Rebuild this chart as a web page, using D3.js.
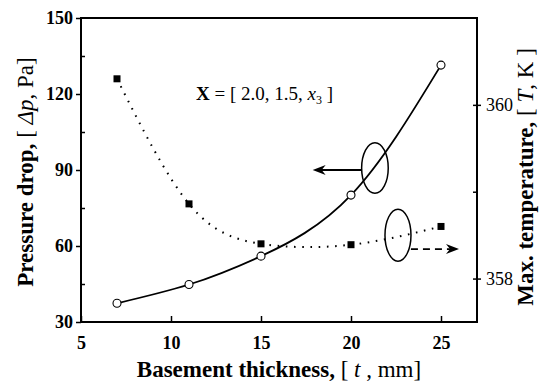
<!DOCTYPE html>
<html>
<head>
<meta charset="utf-8">
<script src="https://cdn.jsdelivr.net/npm/d3@7"></script>
<style>
  body { margin: 0; background: #fff; }
  text { font-family: "Liberation Serif", "Times New Roman", serif; fill: #000; }
</style>
</head>
<body>
<div id="chart"></div>
<script>
// Data
const thickness = [7, 11, 15, 20, 25];
const pressureDrop = [37.4, 44.8, 56, 80.1, 131.4];
const maxTemp = [360.30, 358.86, 358.40, 358.39, 358.60];

const xTicks = [5, 10, 15, 20, 25];
const leftTicks = [30, 60, 90, 120, 150];
const leftMinor = [45, 75, 105, 135];
const rightTicks = [358, 360];
const rightMinor = [359];

// Annotation anchors (data units): [x, y] with y on the axis the ellipse points to
const leftEllipse = { x: 21.33, y: 90.8, arrowTo: 17.87, arrowY: 90 };
const rightEllipse = { x: 22.61, y: 358.50, arrowFrom: 23.33, arrowTo: 26.0, arrowY: 358.34 };

const W = 543, H = 382;
const margin = { top: 18, right: 66, bottom: 60, left: 81 };
const width = W - margin.left - margin.right;
const height = H - margin.top - margin.bottom;

const svg = d3.select('#chart')
    .append('svg')
    .attr('width', W)
    .attr('height', H);

const g = svg.append('g')
    .attr('transform', `translate(${margin.left},${margin.top})`);

// Scales
const x = d3.scaleLinear().domain([5, 27]).range([0, width]);
const yL = d3.scaleLinear().domain([30, 150]).range([height, 0]);
const yR = d3.scaleLinear().domain([357.5, 361]).range([height, 0]);

// Frame
g.append('rect')
    .attr('width', width)
    .attr('height', height)
    .attr('fill', 'none')
    .attr('stroke', '#000')
    .attr('stroke-width', 2);

// X axis (ticks inward)
g.append('g')
    .attr('transform', `translate(0,${height})`)
    .call(d3.axisBottom(x).tickValues(xTicks).tickSizeInner(-6).tickSizeOuter(0).tickPadding(14))
    .call(a => a.select('.domain').remove())
    .call(a => a.selectAll('line').attr('stroke-width', 1.5))
    .call(a => a.selectAll('text')
        .attr('font-size', '18px').attr('font-weight', 'bold')
        .attr('font-family', '"Liberation Serif", serif'));

// Left axis
g.append('g')
    .call(d3.axisLeft(yL).tickValues(leftTicks).tickSizeInner(5).tickSizeOuter(0).tickPadding(3))
    .call(a => a.select('.domain').remove())
    .call(a => a.selectAll('line').attr('stroke-width', 1.5))
    .call(a => a.selectAll('text')
        .attr('font-size', '18px').attr('font-weight', 'bold')
        .attr('font-family', '"Liberation Serif", serif'));

g.append('g')
    .call(d3.axisRight(yL).tickValues(leftMinor).tickSize(4).tickFormat(''))
    .call(a => a.select('.domain').remove())
    .call(a => a.selectAll('line').attr('stroke-width', 1.5));

// Right axis
g.append('g')
    .attr('transform', `translate(${width},0)`)
    .call(d3.axisRight(yR).tickValues(rightTicks).tickFormat(d3.format('d'))
        .tickSizeInner(4).tickSizeOuter(0).tickPadding(5))
    .call(a => a.select('.domain').remove())
    .call(a => a.selectAll('line').attr('stroke-width', 1.5).attr('x1', -4))
    .call(a => a.selectAll('text')
        .attr('font-size', '18px')
        .attr('font-family', '"Liberation Serif", serif'));

g.append('g')
    .attr('transform', `translate(${width},0)`)
    .call(d3.axisLeft(yR).tickValues(rightMinor).tickSize(4).tickFormat(''))
    .call(a => a.select('.domain').remove())
    .call(a => a.selectAll('line').attr('stroke-width', 1.5));

// Lines
const pData = thickness.map((t, i) => [t, pressureDrop[i]]);
const tData = thickness.map((t, i) => [t, maxTemp[i]]);

g.append('path')
    .datum(tData)
    .attr('fill', 'none')
    .attr('stroke', '#000')
    .attr('stroke-width', 2)
    .attr('stroke-dasharray', '1.6 6.6')
    .attr('d', d3.line().x(d => x(d[0])).y(d => yR(d[1])).curve(d3.curveNatural));

g.append('path')
    .datum(pData)
    .attr('fill', 'none')
    .attr('stroke', '#000')
    .attr('stroke-width', 1.8)
    .attr('d', d3.line().x(d => x(d[0])).y(d => yL(d[1])).curve(d3.curveNatural));

// Markers
g.selectAll('.sq')
    .data(tData)
    .enter()
    .append('rect')
    .attr('class', 'sq')
    .attr('x', d => x(d[0]) - 3.5)
    .attr('y', d => yR(d[1]) - 3.5)
    .attr('width', 7)
    .attr('height', 7)
    .attr('fill', '#000');

g.selectAll('.circ')
    .data(pData)
    .enter()
    .append('circle')
    .attr('class', 'circ')
    .attr('cx', d => x(d[0]))
    .attr('cy', d => yL(d[1]))
    .attr('r', 4)
    .attr('fill', '#fff')
    .attr('stroke', '#000')
    .attr('stroke-width', 1.1);

// Arrowhead (barbed), dir = -1 points left, +1 points right
const arrowHead = (tx, ty, dir) =>
    `M${tx},${ty}L${tx - dir * 13},${ty - 5}L${tx - dir * 9},${ty}L${tx - dir * 13},${ty + 5}Z`;

// Left annotation: ellipse around solid curve, arrow to left axis
const e1x = x(leftEllipse.x), e1y = yL(leftEllipse.y);
g.append('ellipse')
    .attr('cx', e1x).attr('cy', e1y)
    .attr('rx', 13.3).attr('ry', 25.3)
    .attr('fill', 'none').attr('stroke', '#000').attr('stroke-width', 1.5);
const a1y = yL(leftEllipse.arrowY);
g.append('line')
    .attr('x1', e1x - 13.3).attr('y1', a1y)
    .attr('x2', x(leftEllipse.arrowTo) + 6).attr('y2', a1y)
    .attr('stroke', '#000').attr('stroke-width', 1.8);
g.append('path')
    .attr('d', arrowHead(x(leftEllipse.arrowTo), a1y, -1))
    .attr('fill', '#000');

// Right annotation: ellipse around dotted curve, dashed arrow to right axis
const e2x = x(rightEllipse.x), e2y = yR(rightEllipse.y);
g.append('ellipse')
    .attr('cx', e2x).attr('cy', e2y)
    .attr('rx', 13).attr('ry', 26)
    .attr('fill', 'none').attr('stroke', '#000').attr('stroke-width', 1.5);
const a2y = yR(rightEllipse.arrowY);
g.append('line')
    .attr('x1', x(rightEllipse.arrowFrom)).attr('y1', a2y)
    .attr('x2', x(rightEllipse.arrowTo) - 6).attr('y2', a2y)
    .attr('stroke', '#000').attr('stroke-width', 1.8)
    .attr('stroke-dasharray', '7 5');
g.append('path')
    .attr('d', arrowHead(x(rightEllipse.arrowTo), a2y, 1))
    .attr('fill', '#000');

// Design vector label
const lab = g.append('text')
    .attr('x', x(11.39))
    .attr('y', yL(117.6))
    .attr('font-size', '19px');
lab.append('tspan').attr('font-weight', 'bold').text('X');
lab.append('tspan').text(' = [ 2.0, 1.5, ');
lab.append('tspan').attr('font-style', 'italic').text('x');
lab.append('tspan').attr('font-size', '12px').attr('dy', 4).text('3');
lab.append('tspan').attr('dy', -4).text(' ]');

// Axis titles
const xt = svg.append('text')
    .attr('x', margin.left + width / 2)
    .attr('y', 377)
    .attr('text-anchor', 'middle')
    .attr('font-size', '23px');
xt.append('tspan').attr('font-weight', 'bold').text('Basement thickness,');
xt.append('tspan').text(' [ ');
xt.append('tspan').attr('font-style', 'italic').text('t');
xt.append('tspan').text(' ,  mm]');

const yt = svg.append('text')
    .attr('transform', `translate(33,${margin.top + height / 2 + 2}) rotate(-90)`)
    .attr('text-anchor', 'middle')
    .attr('font-size', '23px');
yt.append('tspan').attr('font-weight', 'bold').text('Pressure drop,');
yt.append('tspan').text(' [ ');
yt.append('tspan').attr('font-style', 'italic').text('Δp');
yt.append('tspan').text(', Pa]');

const rt = svg.append('text')
    .attr('transform', `translate(533,${margin.top + height / 2 + 7}) rotate(-90)`)
    .attr('text-anchor', 'middle')
    .attr('font-size', '23px');
rt.append('tspan').attr('font-weight', 'bold').text('Max. temperature,');
rt.append('tspan').text(' [ ');
rt.append('tspan').attr('font-style', 'italic').text('T');
rt.append('tspan').text(', K ]');
</script>
</body>
</html>
